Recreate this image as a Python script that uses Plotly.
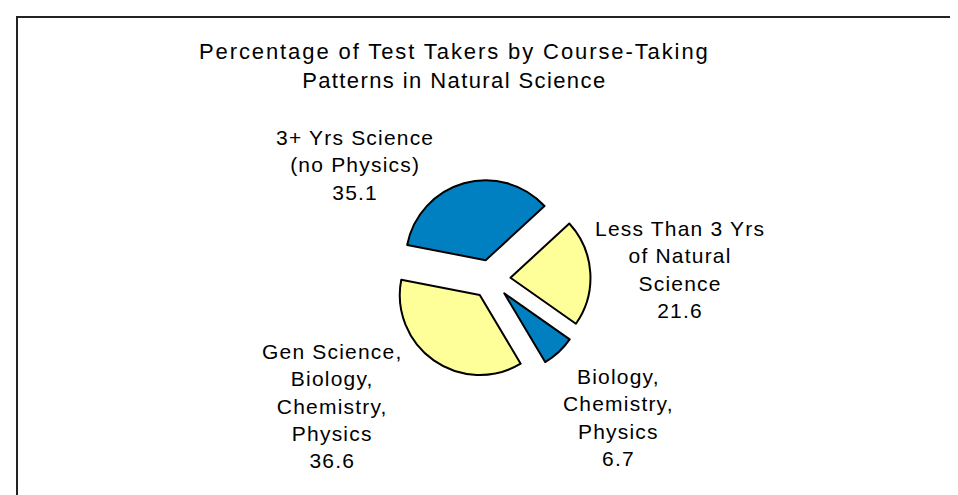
import plotly.graph_objects as go

# Data
categories = [
    "3+ Yrs Science<br>(no Physics)",
    "Less Than 3 Yrs<br>of Natural<br>Science",
    "Biology,<br>Chemistry,<br>Physics",
    "Gen Science,<br>Biology,<br>Chemistry,<br>Physics",
]
values = [35.1, 21.6, 6.7, 36.6]
colors = ["#0080C0", "#FFFF99", "#0080C0", "#FFFF99"]
title_lines = ["Percentage of Test Takers by Course-Taking", "Patterns in Natural Science"]

# label anchor positions (pixels in 958x495 figure), styling only
label_px = [(347, 157), (672, 261), (610, 409), (324, 398)]
title_spacing = [1.9, 1.4]

W, H = 958, 495
FONT = "Liberation Sans, Arial, sans-serif"


def spaced(lines, ls):
    if not isinstance(ls, list):
        ls = [ls] * len(lines)
    return "<br>".join(f"<span style='letter-spacing:{s}px'>{p}</span>" for p, s in zip(lines, ls))


fig = go.Figure()
fig.add_trace(go.Pie(
    labels=categories,
    values=values,
    sort=False,
    direction="clockwise",
    rotation=-79,
    pull=[0.244, 0.244, 0.244, 0.244],
    marker=dict(colors=colors, line=dict(color="#000000", width=2)),
    textinfo="none",
    hoverinfo="label+value",
    showlegend=False,
    domain=dict(x=[383.5 / W, 582.5 / W], y=[124.5 / H, 323.5 / H]),
))

annotations = []
for lab, val, (px, py) in zip(categories, values, label_px):
    annotations.append(dict(
        x=px / W, y=1 - py / H, xref="paper", yref="paper",
        text=spaced(f"{lab}<br>{val}".split("<br>"), 1.2), showarrow=False,
        xanchor="center", yanchor="middle", align="center",
        font=dict(family=FONT, size=21, color="#000000"),
    ))
annotations.append(dict(
    x=446 / W, y=1 - 58 / H, xref="paper", yref="paper",
    text=spaced(title_lines, title_spacing), showarrow=False,
    xanchor="center", yanchor="middle", align="center",
    font=dict(family=FONT, size=22, color="#000000"),
))

fig.update_layout(
    width=W, height=H,
    margin=dict(l=0, r=0, t=0, b=0),
    paper_bgcolor="#FFFFFF",
    plot_bgcolor="#FFFFFF",
    annotations=annotations,
    shapes=[dict(
        type="rect", xref="paper", yref="paper",
        x0=9 / W, x1=1.2, y0=-0.2, y1=1 - 9 / H,
        line=dict(color="#222222", width=2), fillcolor="rgba(0,0,0,0)",
    )],
)

fig.write_html("out.html")
